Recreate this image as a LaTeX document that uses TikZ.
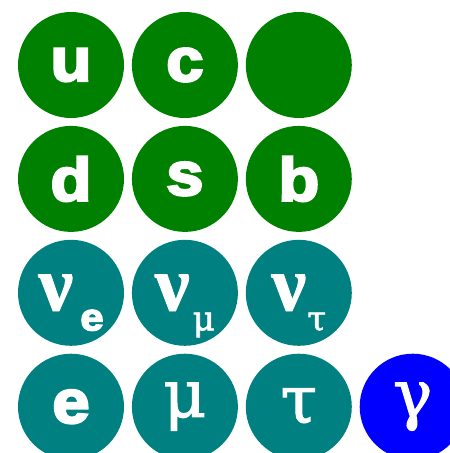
\documentclass[tikz,border=0pt]{standalone}
\usepackage{fontspec}
\setmainfont{Liberation Sans}
\newfontfamily\heavyfont[FakeBold=4,FakeStretch=1.1]{Liberation Sans Bold}
\newfontfamily\greekfont[FakeBold=1.5]{DejaVu Serif}
\newfontfamily\nufont[FakeBold=1]{Liberation Serif Bold}
\usetikzlibrary{positioning}

\definecolor{quarkgreen}{HTML}{008000}
\definecolor{leptonteal}{HTML}{008080}
\definecolor{bosonblue}{HTML}{0000FF}

% greek letters and subscript
\newcommand{\gk}[1]{{\greekfont\fontsize{66}{66}\selectfont #1}}
\newcommand{\neutrino}{{\nufont\fontsize{78}{78}\selectfont ν}}
\newcommand{\lowsub}[3]{\hspace{#3}\raisebox{-20pt}[0pt][0pt]{\fontsize{#2}{#2}\selectfont #1}}

\begin{document}
\begin{tikzpicture}[
  node distance=7.5pt,
  particle/.style={circle,minimum size=106pt,inner sep=0pt,text=white,
    font=\heavyfont\fontsize{61}{61}\selectfont},
  quark/.style={particle,fill=quarkgreen},
  lepton/.style={particle,fill=leptonteal},
  boson/.style={particle,fill=bosonblue}
]
  \useasboundingbox (0,0) rectangle (450pt,-453pt);
  \clip (0,0) rectangle (450pt,-453pt);

  % quarks
  \node[quark] (u) at (71pt,-65pt) {u};
  \node[quark, right=of u] (c) {c};
  \node[quark, right=of c] (t) {};
  \node[quark, below=of u] (d) {d};
  \node[quark, right=of d] (s) {s};
  \node[quark, right=of s] (b) {b};

  % leptons
  \node[lepton, below=of d] (nue) {\neutrino\lowsub{e}{38}{7pt}};
  \node[lepton, right=of nue] (numu) {\neutrino\lowsub{\greekfont μ}{34}{3pt}};
  \node[lepton, right=of numu] (nutau) {\neutrino\lowsub{\greekfont τ}{34}{1pt}};
  \node[lepton, below=of nue] (e) {e};
  \node[lepton, right=of e] (mu) {\gk{μ}};
  \node[lepton, right=of mu] (tau) {\gk{τ}};

  % boson
  \node[boson, right=of tau] (gamma) {\gk{γ}};
\end{tikzpicture}
\end{document}
